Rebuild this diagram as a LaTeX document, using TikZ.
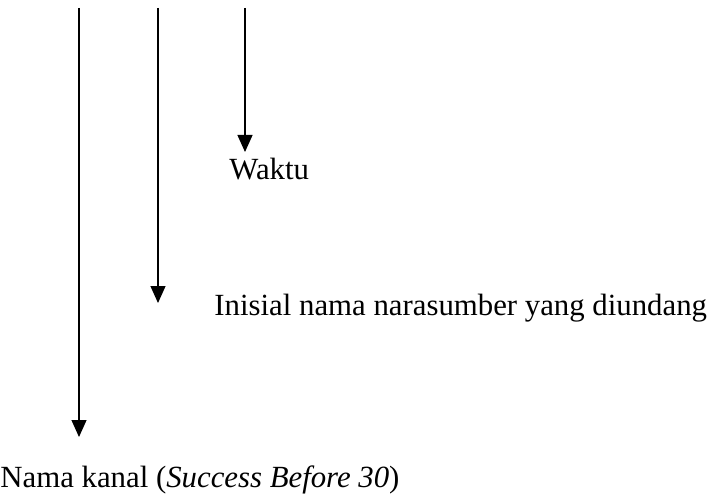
\documentclass[tikz,border=0pt]{standalone}
\usepackage{fontspec}
\setmainfont{Liberation Serif}
\usetikzlibrary{arrows.meta}

\begin{document}
\begin{tikzpicture}[x=0.5pt,y=-0.5pt,
    label text/.style={anchor=base west,inner sep=0pt,font=\fontsize{15.4}{18}\selectfont},
    pointer/.style={-{Triangle[width=7.5pt,length=8.5pt]},line width=0.6pt}]
            \useasboundingbox (0,0) rectangle (711,497);

            % labels
            \node[label text] (waktu) at (229,180) {Waktu};
            \node[label text] (inisial) at (214,315) {Inisial nama narasumber yang diundang};
            \node[label text] (kanal) at (0,487) {Nama kanal (\textit{Success Before 30})};

            % arrows
            \foreach \n/\x/\y in {kanal/79/437, inisial/158/303, waktu/245/152}{
                \coordinate (top \n) at (\x,8);
                \coordinate (tip \n) at (\x,\y);
                \draw[pointer] (top \n) -- (tip \n);
            }
\end{tikzpicture}
\end{document}
